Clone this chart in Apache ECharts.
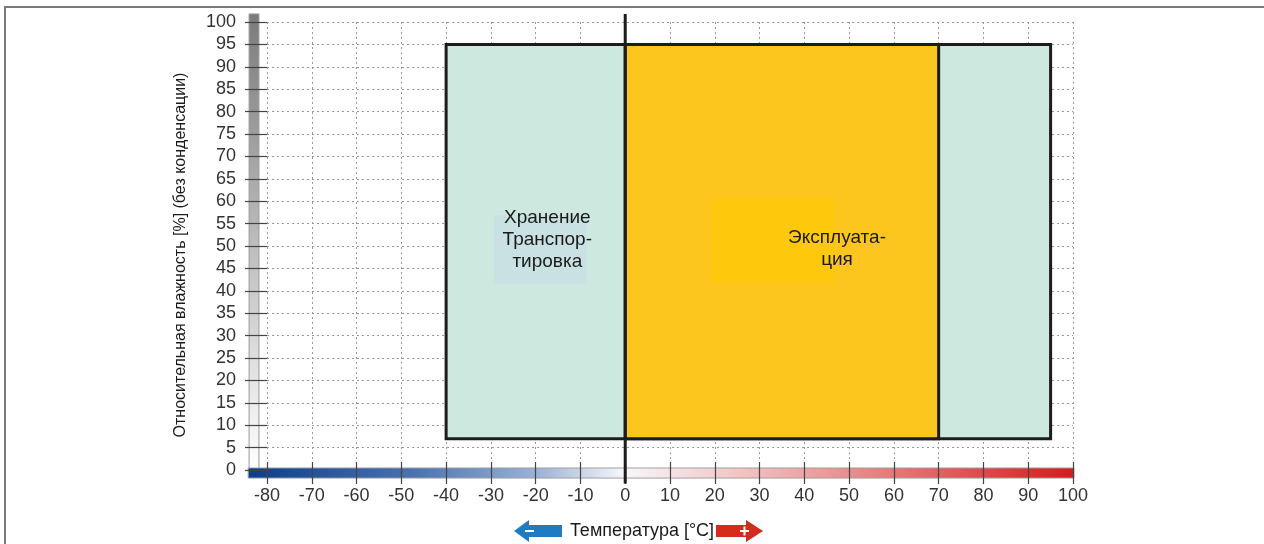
<!DOCTYPE html>
<html>
<head>
<meta charset="utf-8">
<script src="https://cdn.jsdelivr.net/npm/echarts@6/dist/echarts.min.js"></script>
<style>
  html, body { margin: 0; padding: 0; background: #fff; }
  #chart { width: 1264px; height: 544px; }
</style>
</head>
<body>
<div id="chart"></div>
<script>
// Axis ranges (°C and % relative humidity)
const tempMin = -80;
const tempMax = 100;
const tempStep = 10;
const humMin = 0;
const humMax = 100;
const humStep = 5;

// Climate zones: storage/transport and operation
const zoneNames = ['Хранение\nТранспор-\nтировка', 'Эксплуата-\nция'];
const zoneTempFrom = [-40, 0];
const zoneTempTo = [95, 70];
const zoneHumFrom = [7, 7];
const zoneHumTo = [95, 95];
const zoneFills = ['#cde8df', '#fdc61f'];

// Label anchors and the soft panels behind the labels
const labelTemp = [-17.4, 47.3];
const labelHum = [51.4, 49.3];
const panelTempFrom = [-29.3, 19.3];
const panelTempTo = [-8.7, 46.7];
const panelHumFrom = [41.5, 41.7];
const panelHumTo = [56.9, 60.7];
const panelFills = ['#c9e1e2', '#fec90c'];

const FONT = '"Liberation Sans", Arial, sans-serif';

const zoneData = zoneNames.map((n, i) => [zoneTempFrom[i], zoneTempTo[i], zoneHumFrom[i], zoneHumTo[i], i]);
const labelData = zoneNames.map((n, i) => [labelTemp[i], labelHum[i], panelTempFrom[i], panelTempTo[i], panelHumFrom[i], panelHumTo[i], i]);

function rectFrom(api, x0, x1, y0, y1) {
  const a = api.coord([x0, y1]);
  const b = api.coord([x1, y0]);
  return { x: a[0], y: a[1], width: b[0] - a[0], height: b[1] - a[1] };
}

const chart = echarts.init(document.getElementById('chart'), null, { renderer: 'canvas' });

chart.setOption({
  animation: false,
  backgroundColor: '#ffffff',
  grid: { left: 267, right: 191, top: 22, bottom: 74, containLabel: false },
  xAxis: {
    type: 'value',
    min: tempMin, max: tempMax, interval: tempStep,
    offset: -8,
    z: 3,
    axisLine: { show: false, onZero: false },
    axisTick: { show: true, inside: false, length: 22, lineStyle: { color: '#444', width: 1.2 } },
    axisLabel: { margin: 25, fontSize: 18, color: '#333', fontFamily: FONT },
    splitLine: { show: true, lineStyle: { color: '#999', width: 1, type: [2, 3] } }
  },
  yAxis: {
    type: 'value',
    min: humMin, max: humMax, interval: humStep,
    z: 3,
    axisLine: { show: false, onZero: false },
    axisTick: { show: true, length: 22, lineStyle: { color: '#444', width: 1.2 } },
    axisLabel: { margin: 31, fontSize: 18, color: '#333', fontFamily: FONT },
    splitLine: { show: true, showMinLine: false, lineStyle: { color: '#999', width: 1, type: [2, 3] } }
  },
  graphic: [
    // frame lines
    { type: 'line', shape: { x1: 4, y1: 7, x2: 1264, y2: 7 }, style: { stroke: '#7a7a7a', lineWidth: 2 }, z: 10 },
    { type: 'line', shape: { x1: 5, y1: 7, x2: 5, y2: 544 }, style: { stroke: '#7a7a7a', lineWidth: 2 }, z: 10 },
    // y axis title
    {
      type: 'text', x: 181, y: 255, rotation: Math.PI / 2, z: 10,
      style: { text: 'Относительная влажность [%] (без конденсации)', font: '16px ' + FONT, fill: '#1a1a1a', align: 'center', verticalAlign: 'middle' }
    },
    // x axis title with the cold/warm arrows
    {
      type: 'text', x: 642, y: 531, z: 10,
      style: { text: 'Температура [°C]', font: '18px ' + FONT, fill: '#1a1a1a', align: 'center', verticalAlign: 'middle' }
    },
    {
      type: 'polygon', z: 10,
      shape: { points: [[514, 531], [529, 520], [529, 525], [562, 525], [562, 537], [529, 537], [529, 542]] },
      style: { fill: '#1f7cc3' }
    },
    { type: 'rect', z: 11, shape: { x: 525, y: 530, width: 9, height: 2 }, style: { fill: '#ffffff' } },
    {
      type: 'polygon', z: 10,
      shape: { points: [[716, 525], [746, 525], [746, 520], [763, 531], [746, 542], [746, 537], [716, 537]] },
      style: { fill: '#d52b1c' }
    },
    { type: 'rect', z: 11, shape: { x: 740, y: 530, width: 9, height: 2 }, style: { fill: '#ffffff' } },
    { type: 'rect', z: 11, shape: { x: 743.5, y: 526.5, width: 2, height: 9 }, style: { fill: '#ffffff' } }
  ],
  series: [
    {
      // humidity scale strip and temperature colour strip along the axes
      type: 'custom',
      z: 1,
      clip: false,
      silent: true,
      data: [[0]],
      renderItem: function (params, api) {
        const tStrip = rectFrom(api, -84.2, 100.2, -1.8, 0.45);
        const hStrip = rectFrom(api, -84.0, -81.8, 0, 101.8);
        return {
          type: 'group',
          children: [
            {
              type: 'rect', shape: hStrip,
              style: {
                fill: new echarts.graphic.LinearGradient(0, 0, 0, 1, [
                  { offset: 0, color: '#7b7b7b' },
                  { offset: 0.5, color: '#bcbcbc' },
                  { offset: 1, color: '#ffffff' }
                ]),
                stroke: '#9a9a9a', lineWidth: 1
              }
            },
            {
              type: 'rect', shape: tStrip,
              style: {
                fill: new echarts.graphic.LinearGradient(0, 0, 1, 0, [
                  { offset: 0, color: '#0b3d8b' },
                  { offset: 0.2, color: '#4a72b0' },
                  { offset: 0.35, color: '#9bb2d6' },
                  { offset: 0.456, color: '#f7f7fa' },
                  { offset: 0.6, color: '#f2c2c2' },
                  { offset: 0.8, color: '#e57070' },
                  { offset: 1, color: '#d41b1b' }
                ]),
                stroke: '#a0a0a0', lineWidth: 1
              }
            }
          ]
        };
      }
    },
    {
      // zone rectangles
      type: 'custom',
      z: 5,
      clip: false,
      silent: true,
      data: zoneData,
      renderItem: function (params, api) {
        const r = rectFrom(api, api.value(0), api.value(1), api.value(2), api.value(3));
        return {
          type: 'rect', shape: r,
          style: { fill: zoneFills[api.value(4)], stroke: '#1c1c1c', lineWidth: 3 }
        };
      }
    },
    {
      // zero degree line
      type: 'custom',
      z: 6,
      clip: false,
      silent: true,
      data: [[0]],
      renderItem: function (params, api) {
        const top = api.coord([0, 101.8]);
        const bottom = api.coord([0, -3]);
        return {
          type: 'line',
          shape: { x1: top[0], y1: top[1], x2: bottom[0], y2: bottom[1] },
          style: { stroke: '#1c1c1c', lineWidth: 3 }
        };
      }
    },
    {
      // zone captions
      type: 'custom',
      z: 7,
      clip: false,
      silent: true,
      data: labelData,
      renderItem: function (params, api) {
        const i = api.value(6);
        const c = api.coord([api.value(0), api.value(1)]);
        const panel = rectFrom(api, api.value(2), api.value(3), api.value(4), api.value(5));
        return {
          type: 'group',
          children: [
            { type: 'rect', shape: panel, style: { fill: panelFills[i] } },
            {
              type: 'text', x: c[0], y: c[1],
              style: { text: zoneNames[i], font: '19px ' + FONT, lineHeight: 22, fill: '#1a1a1a', align: 'center', verticalAlign: 'middle' }
            }
          ]
        };
      }
    }
  ]
});
</script>
</body>
</html>
